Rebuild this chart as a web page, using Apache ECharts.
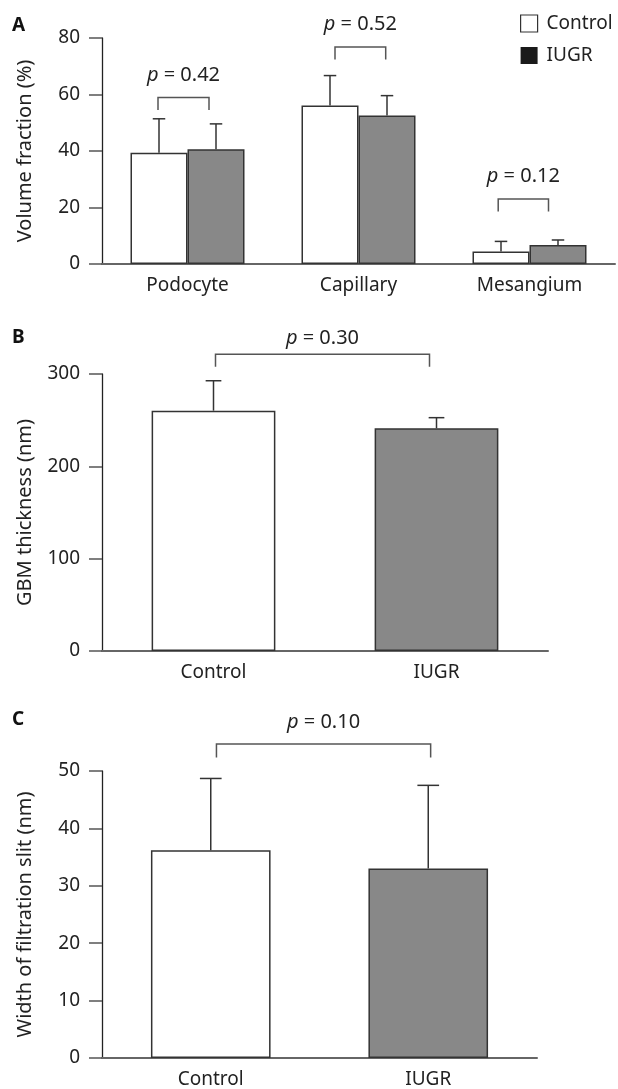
<!DOCTYPE html>
<html><head><meta charset="utf-8">
<script src="https://cdn.jsdelivr.net/npm/echarts@6/dist/echarts.min.js"></script>
<style>html,body{margin:0;padding:0;background:#fff}#c{width:618px;height:1089px}</style>
</head><body><div id="c"></div>
<script>
// ---------- DATA ----------
// Panel A: volume fraction (%)
const catsA = ['Podocyte', 'Capillary', 'Mesangium'];
const controlA = [39.4, 56.1, 4.4];
const controlA_sd = [12.0, 10.6, 3.6];
const iugrA = [40.6, 52.6, 6.7];
const iugrA_sd = [9.0, 7.0, 1.8];
const pA = ['0.42', '0.52', '0.12'];
const bracketA = [58.9, 76.8, 23.0];
const ticksA = {min: 0, max: 80, interval: 20};

// Panel B: GBM thickness (nm)
const catsB = ['Control', 'IUGR'];
const gbmB = [260.3, 241.2];
const gbmB_sd = [32.4, 11.5];
const pB = '0.30';
const bracketB = 321.3;
const ticksB = {min: 0, max: 300, interval: 100};

// Panel C: width of filtration slit (nm)
const catsC = ['Control', 'IUGR'];
const slitC = [36.2, 33.0];
const slitC_sd = [12.5, 14.5];
const pC = '0.10';
const bracketC = 54.7;
const ticksC = {min: 0, max: 50, interval: 10};

// ---------- STYLE / LAYOUT ----------
const FONT = 'Noto Sans';
const TXT = '#222';
const EDGE = '#333';
const GRAY = '#888888';
const gapA = 1 / 3;
const bracketDxA = [[-1, -7], [5, -1.3], [-2.8, -9.5]];
const bracketDxB = [2, -7];
const bracketDxC = [5.7, 2.4];

const chart = echarts.init(document.getElementById('c'), null, {renderer: 'canvas'});

function yAxisCfg(grid, t, name) {
  return {
    type: 'value', gridIndex: grid, min: t.min, max: t.max, interval: t.interval,
    name: name, nameLocation: 'middle', nameGap: 67, nameRotate: 90,
    nameTextStyle: {fontFamily: FONT, fontSize: 20, color: TXT},
    axisLine: {show: true, lineStyle: {color: '#222', width: 1.3}},
    axisTick: {show: true, length: 13, lineStyle: {color: '#555', width: 1.5}},
    axisLabel: {fontFamily: FONT, fontSize: 19, color: TXT, margin: 22},
    splitLine: {show: false}
  };
}
function xAxisCfg(grid, cats) {
  return {
    type: 'category', gridIndex: grid, data: cats,
    axisLine: {show: true, lineStyle: {color: '#666', width: 2}},
    axisTick: {show: false},
    axisLabel: {fontFamily: FONT, fontSize: 19, color: TXT, margin: 12}
  };
}

function errBars(gap, idx, n, capW) {
  return function (params, api) {
    const i = api.value(0), v = api.value(1), sd = api.value(2);
    const band = api.size([1, 0])[0];
    const bw = band * (1 - gap) / n;
    const cx = api.coord([i, 0])[0] + (idx - (n - 1) / 2) * bw;
    const y0 = api.coord([i, v])[1], y1 = api.coord([i, v + sd])[1];
    const st = {stroke: EDGE, lineWidth: 1.5};
    return {type: 'group', children: [
      {type: 'line', shape: {x1: cx, y1: y0, x2: cx, y2: y1}, style: st},
      {type: 'line', shape: {x1: cx - capW / 2, y1: y1, x2: cx + capW / 2, y2: y1}, style: st}
    ]};
  };
}

function bracketShape(xl, xr, y, leg, txt, labelOff) {
  const st = {stroke: '#555', lineWidth: 1.5, fill: null};
  return {type: 'group', children: [
    {type: 'polyline', shape: {points: [[xl, y + leg], [xl, y], [xr, y], [xr, y + leg]]}, style: st},
    {type: 'text', style: {
      text: '{i|p} = ' + txt, x: (xl + xr) / 2, y: y - labelOff,
      align: 'center', verticalAlign: 'middle',
      fontFamily: FONT, fontSize: 20, fill: TXT,
      rich: {i: {fontFamily: FONT, fontSize: 20, fontStyle: 'italic', fill: TXT}}
    }}
  ]};
}

const option = {
  animation: false,
  backgroundColor: '#fff',
  textStyle: {fontFamily: FONT},
  grid: [
    {left: 102, top: 38, width: 513, height: 226},
    {left: 102, top: 374, width: 446, height: 277},
    {left: 102, top: 771, width: 435, height: 287}
  ],
  legend: {
    left: 515, top: 9, orient: 'vertical', itemWidth: 17, itemHeight: 17, itemGap: 13,
    icon: 'rect', selectedMode: false,
    textStyle: {fontFamily: FONT, fontSize: 19, color: TXT, padding: [0, 0, 0, 4]},
    data: [
      {name: 'Control', itemStyle: {color: '#fff', borderColor: EDGE, borderWidth: 1.2}},
      {name: 'IUGR', itemStyle: {color: '#1a1a1a', borderColor: '#1a1a1a', borderWidth: 0}}
    ]
  },
  xAxis: [xAxisCfg(0, catsA), xAxisCfg(1, catsB), xAxisCfg(2, catsC)],
  yAxis: [
    yAxisCfg(0, ticksA, 'Volume fraction (%)'),
    yAxisCfg(1, ticksB, 'GBM thickness (nm)'),
    yAxisCfg(2, ticksC, 'Width of filtration slit (nm)')
  ],
  graphic: [
    {type: 'text', left: 12, top: 16, style: {text: 'A', fontFamily: FONT, fontSize: 19, fontWeight: 'bold', fill: '#111'}},
    {type: 'text', left: 12, top: 328, style: {text: 'B', fontFamily: FONT, fontSize: 19, fontWeight: 'bold', fill: '#111'}},
    {type: 'text', left: 12, top: 710, style: {text: 'C', fontFamily: FONT, fontSize: 19, fontWeight: 'bold', fill: '#111'}}
  ],
  series: [
    {type: 'bar', name: 'Control', xAxisIndex: 0, yAxisIndex: 0, data: controlA,
      barGap: '0%', barCategoryGap: (gapA * 100) + '%', z: 2,
      itemStyle: {color: '#fff', borderColor: EDGE, borderWidth: 1.5}},
    {type: 'bar', name: 'IUGR', xAxisIndex: 0, yAxisIndex: 0, data: iugrA,
      barGap: '0%', barCategoryGap: (gapA * 100) + '%', z: 2,
      itemStyle: {color: GRAY, borderColor: EDGE, borderWidth: 1.5}},
    {type: 'custom', xAxisIndex: 0, yAxisIndex: 0, z: 3, silent: true,
      data: controlA.map((v, i) => [i, v, controlA_sd[i]]),
      renderItem: errBars(gapA, 0, 2, 12.5)},
    {type: 'custom', xAxisIndex: 0, yAxisIndex: 0, z: 3, silent: true,
      data: iugrA.map((v, i) => [i, v, iugrA_sd[i]]),
      renderItem: errBars(gapA, 1, 2, 12.5)},
    {type: 'custom', xAxisIndex: 0, yAxisIndex: 0, z: 4, silent: true,
      data: bracketA.map((v, i) => [i, v]),
      renderItem: function (params, api) {
        const i = api.value(0);
        const band = api.size([1, 0])[0];
        const bw = band * (1 - gapA) / 2;
        const c = api.coord([i, api.value(1)]);
        const xl = c[0] - bw / 2 + bracketDxA[i][0];
        const xr = c[0] + bw / 2 + bracketDxA[i][1];
        return bracketShape(xl, xr, c[1], 12.5, pA[i], 22.5);
      }},

    {type: 'bar', name: 'GBM', xAxisIndex: 1, yAxisIndex: 1, barCategoryGap: '44.5%', z: 2,
      data: gbmB.map((v, i) => ({value: v, itemStyle: {color: i === 0 ? '#fff' : GRAY}})),
      itemStyle: {borderColor: EDGE, borderWidth: 1.5}},
    {type: 'custom', xAxisIndex: 1, yAxisIndex: 1, z: 3, silent: true,
      data: gbmB.map((v, i) => [i, v, gbmB_sd[i]]),
      renderItem: errBars(0.445, 0, 1, 15.7)},
    {type: 'custom', xAxisIndex: 1, yAxisIndex: 1, z: 4, silent: true,
      data: [[0, bracketB]],
      renderItem: function (params, api) {
        const a = api.coord([0, api.value(1)]);
        const b = api.coord([1, api.value(1)]);
        return bracketShape(a[0] + bracketDxB[0], b[0] + bracketDxB[1], a[1], 12.5, pB, 16);
      }},

    {type: 'bar', name: 'Slit', xAxisIndex: 2, yAxisIndex: 2, barCategoryGap: '45%', z: 2,
      data: slitC.map((v, i) => ({value: v, itemStyle: {color: i === 0 ? '#fff' : GRAY}})),
      itemStyle: {borderColor: EDGE, borderWidth: 1.5}},
    {type: 'custom', xAxisIndex: 2, yAxisIndex: 2, z: 3, silent: true,
      data: slitC.map((v, i) => [i, v, slitC_sd[i]]),
      renderItem: errBars(0.45, 0, 1, 21.7)},
    {type: 'custom', xAxisIndex: 2, yAxisIndex: 2, z: 4, silent: true,
      data: [[0, bracketC]],
      renderItem: function (params, api) {
        const a = api.coord([0, api.value(1)]);
        const b = api.coord([1, api.value(1)]);
        return bracketShape(a[0] + bracketDxC[0], b[0] + bracketDxC[1], a[1], 13.5, pC, 22);
      }}
  ]
};
chart.setOption(option);
</script>
</body></html>
